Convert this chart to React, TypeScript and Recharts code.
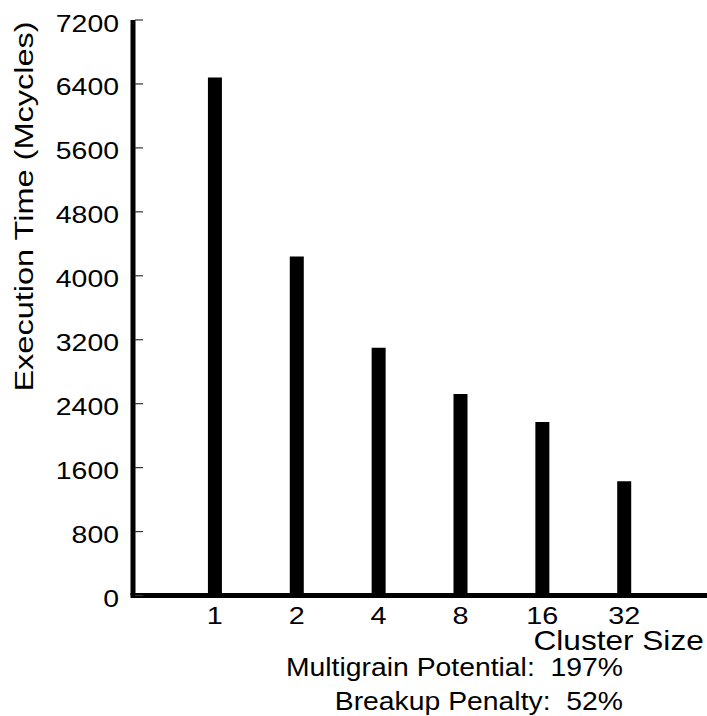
import { BarChart, Bar, XAxis, YAxis } from 'recharts';

const clusterSizes = ['1', '2', '4', '8', '16', '32'];
const executionTime = [6480, 4240, 3100, 2520, 2170, 1430];
const yTicks = [0, 800, 1600, 2400, 3200, 4000, 4800, 5600, 6400, 7200];
const notes = ['Multigrain Potential:\u00a0\u00a0197%', 'Breakup Penalty:\u00a0\u00a052%'];

const data = clusterSizes.map((c, i) => ({ pos: i + 1, size: c, time: executionTime[i] }));

const FONT = "'Liberation Sans', Arial, Helvetica, sans-serif";

function SText({ x, y, size, sx, anchor = 'start', rotate, children }: any) {
  const t = `translate(${x},${y})` + (rotate ? ` rotate(${rotate})` : '') + ` scale(${sx},1)`;
  return (
    <text transform={t} fontSize={size} textAnchor={anchor} fontFamily={FONT} fill="#000">
      {children}
    </text>
  );
}

function YTick({ x, y, payload }: any) {
  return (
    <g>
      <line x1={x + 2} y1={y} x2={x + 10} y2={y} stroke="#333" strokeWidth={1.2} />
      <SText x={x - 14} y={y + 11.5} size={23.3} sx={1.22} anchor="end">{payload.value}</SText>
    </g>
  );
}

function XTick({ x, y, payload }: any) {
  return (
    <SText x={x} y={y + 28.5} size={24} sx={1.2} anchor="middle">
      {clusterSizes[payload.value - 1]}
    </SText>
  );
}

function XTitle({ viewBox }: any) {
  const vb = viewBox || { x: 133, y: 595.5, width: 573 };
  return <SText x={vb.x + vb.width - 172.5} y={vb.y + 54.5} size={27} sx={1.17}>Cluster Size</SText>;
}

function YTitle() {
  return <SText x={33.3} y={206.5} size={25.6} sx={1.27} anchor="middle" rotate={-90}>Execution Time (Mcycles)</SText>;
}

export default function App() {
  return (
    <div style={{ position: 'absolute', left: 0, top: 0, width: 707, height: 716, background: '#fff' }}>
      <BarChart
        width={707}
        height={716}
        data={data}
        margin={{ top: 20, right: 1, left: 0, bottom: 0 }}
      >
        <XAxis
          dataKey="pos"
          type="number"
          domain={[0, 7]}
          ticks={[1, 2, 3, 4, 5, 6]}
          height={120.5}
          tickSize={0}
          tickMargin={0}
          tickLine={false}
          tick={<XTick />}
          axisLine={{ stroke: '#000', strokeWidth: 5, strokeLinecap: 'square' }}
          label={<XTitle />}
        />
        <YAxis
          domain={[0, 7200]}
          ticks={yTicks}
          width={133}
          tickSize={0}
          tickMargin={0}
          tickLine={false}
          tick={<YTick />}
          axisLine={{ stroke: '#000', strokeWidth: 5 }}
          label={<YTitle />}
        />
        <Bar dataKey="time" fill="#000" barSize={14} isAnimationActive={false} />
      </BarChart>
      <svg
        width={707}
        height={716}
        style={{ position: 'absolute', left: 0, top: 0, pointerEvents: 'none' }}
      >
        <SText x={623} y={676} size={26} sx={1.09} anchor="end">{notes[0]}</SText>
        <SText x={623} y={710} size={26} sx={1.09} anchor="end">{notes[1]}</SText>
      </svg>
    </div>
  );
}
